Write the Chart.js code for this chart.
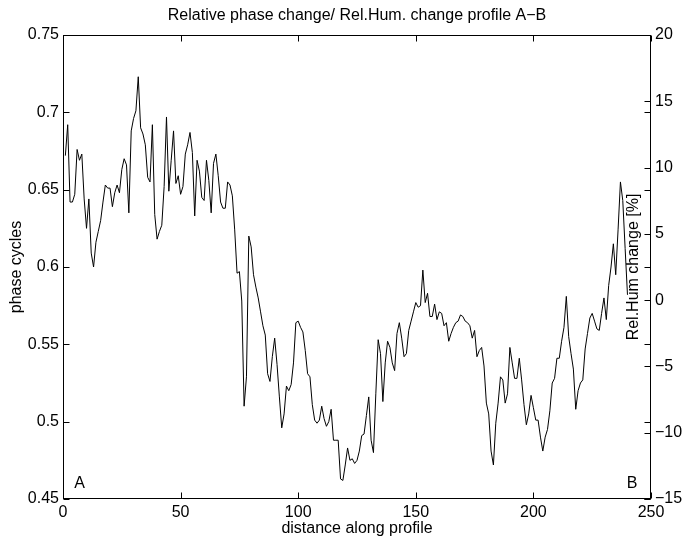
<!DOCTYPE html>
<html>
<head>
<meta charset="utf-8">
<script src="https://cdn.jsdelivr.net/npm/chart.js@4.4.1/dist/chart.umd.min.js"></script>
<style>
  html, body { margin: 0; padding: 0; background: #fff; }
  #c { display: block; }
</style>
</head>
<body>
<canvas id="c" width="682" height="537"></canvas>
<script>
// Text drawn on the figure
const chartTitle = 'Relative phase change/ Rel.Hum. change profile A\u2212B';
const xTitle = 'distance along profile';
const yTitle = 'phase cycles';
const y2Title = 'Rel.Hum change [%]';

// Profile samples: first sample distance, then one phase value per unit step
const firstDistance = 1;
const phaseCycles = [
  0.672, 0.692, 0.642, 0.642, 0.647, 0.676, 0.669, 0.673, 0.644, 0.625,
  0.644, 0.609, 0.600, 0.616, 0.623, 0.630, 0.642, 0.653, 0.651, 0.651,
  0.639, 0.648, 0.653, 0.648, 0.663, 0.670, 0.666, 0.635, 0.688, 0.696,
  0.701, 0.723, 0.690, 0.686, 0.679, 0.658, 0.655, 0.692, 0.634, 0.618,
  0.623, 0.627, 0.652, 0.697, 0.649, 0.669, 0.688, 0.654, 0.659, 0.647,
  0.652, 0.673, 0.679, 0.687, 0.674, 0.633, 0.669, 0.662, 0.645, 0.643,
  0.669, 0.656, 0.635, 0.667, 0.673, 0.659, 0.642, 0.638, 0.638, 0.655,
  0.653, 0.646, 0.624, 0.596, 0.597, 0.578, 0.510, 0.529, 0.620, 0.613,
  0.595, 0.587, 0.580, 0.571, 0.562, 0.556, 0.531, 0.526, 0.542, 0.554,
  0.537, 0.516, 0.496, 0.505, 0.523, 0.520, 0.524, 0.538, 0.564, 0.565,
  0.561, 0.558, 0.546, 0.531, 0.529, 0.511, 0.501, 0.499, 0.501, 0.510,
  0.502, 0.497, 0.500, 0.508, 0.488, 0.488, 0.488, 0.463, 0.462, 0.472,
  0.483, 0.475, 0.476, 0.473, 0.475, 0.481, 0.491, 0.492, 0.504, 0.516,
  0.488, 0.480, 0.518, 0.553, 0.544, 0.513, 0.538, 0.552, 0.548, 0.538,
  0.533, 0.557, 0.564, 0.554, 0.542, 0.544, 0.559, 0.565, 0.571, 0.577,
  0.574, 0.575, 0.598, 0.577, 0.583, 0.568, 0.568, 0.576, 0.566, 0.571,
  0.570, 0.562, 0.564, 0.552, 0.557, 0.561, 0.564, 0.565, 0.569, 0.568,
  0.565, 0.564, 0.562, 0.554, 0.559, 0.542, 0.546, 0.548, 0.536, 0.512,
  0.505, 0.481, 0.472, 0.499, 0.512, 0.529, 0.527, 0.512, 0.518, 0.548,
  0.538, 0.528, 0.528, 0.541, 0.527, 0.511, 0.498, 0.505, 0.517, 0.509,
  0.501, 0.501, 0.490, 0.481, 0.490, 0.495, 0.507, 0.525, 0.528, 0.541,
  0.541, 0.552, 0.561, 0.581, 0.555, 0.544, 0.534, 0.508, 0.520, 0.525,
  0.527, 0.547, 0.557, 0.567, 0.570, 0.565, 0.560, 0.559, 0.570, 0.580,
  0.566, 0.588, 0.600, 0.615, 0.595, 0.624, 0.655, 0.643, 0.612, 0.582
];

// Axis ticks
const distanceTicks = [0, 50, 100, 150, 200, 250];
const phaseTicks = [0.45, 0.5, 0.55, 0.6, 0.65, 0.7, 0.75];
const humidityTicks = [-15, -10, -5, 0, 5, 10, 15, 20];

// Profile end markers
const endText = ['A', 'B'];
const endDistance = [7, 242];
const endPhase = [0.4597, 0.4597];

const FONT = '"Liberation Sans", Arial, Helvetica, sans-serif';
const FONT_SIZE = 16;
Chart.defaults.font.family = FONT;
Chart.defaults.font.size = FONT_SIZE;
Chart.defaults.color = '#000';

const points = phaseCycles.map((v, i) => ({ x: firstDistance + i, y: v }));

const setTicks = (list) => (scale) => { scale.ticks = list.map(v => ({ value: v })); };
const minus = (s) => String(s).replace('-', '\u2212');

const framePlugin = {
  id: 'frame',
  afterDraw(chart) {
    const { ctx, chartArea: a, scales } = chart;
    const L = Math.round(a.left) + 0.5, R = Math.round(a.right) - 0.5;
    const T = Math.round(a.top) + 0.5, B = Math.round(a.bottom) - 0.5;
    const len = 6;
    ctx.save();
    ctx.strokeStyle = '#000';
    ctx.lineWidth = 1;
    ctx.strokeRect(L, T, R - L, B - T);
    ctx.beginPath();
    distanceTicks.forEach(v => {
      const px = Math.round(scales.x.getPixelForValue(v)) + 0.5;
      ctx.moveTo(px, B); ctx.lineTo(px, B - len);
      ctx.moveTo(px, T); ctx.lineTo(px, T + len);
    });
    phaseTicks.forEach(v => {
      const py = Math.round(scales.y.getPixelForValue(v)) + 0.5;
      ctx.moveTo(L, py); ctx.lineTo(L + len, py);
      ctx.moveTo(R, py); ctx.lineTo(R - len, py);
    });
    humidityTicks.forEach(v => {
      const py = Math.round(scales.y2.getPixelForValue(v)) + 0.5;
      ctx.moveTo(R, py); ctx.lineTo(R - len, py);
    });
    ctx.stroke();

    ctx.fillStyle = '#000';
    ctx.font = FONT_SIZE + 'px ' + FONT;
    ctx.textAlign = 'center';
    ctx.textBaseline = 'middle';
    endText.forEach((t, i) => {
      ctx.fillText(t, scales.x.getPixelForValue(endDistance[i]), scales.y.getPixelForValue(endPhase[i]));
    });

    ctx.fillText(chartTitle, (a.left + a.right) / 2, 16);

    ctx.translate(634, (a.top + a.bottom) / 2);
    ctx.rotate(-Math.PI / 2);
    ctx.fillText(y2Title, 0, 0);
    ctx.restore();
  }
};

new Chart(document.getElementById('c'), {
  type: 'line',
  data: {
    datasets: [{
      data: points,
      borderColor: '#000',
      borderWidth: 1,
      pointRadius: 0,
      tension: 0,
      fill: false,
      yAxisID: 'y'
    }]
  },
  options: {
    responsive: false,
    animation: false,
    devicePixelRatio: 1,
    layout: { padding: { top: 35, left: 0, right: 0, bottom: 0 } },
    plugins: { legend: { display: false }, tooltip: { enabled: false }, title: { display: false } },
    scales: {
      x: {
        type: 'linear',
        min: 0, max: 250,
        afterBuildTicks: setTicks(distanceTicks),
        afterFit: (s) => { s.height = 38; },
        grid: { display: false, drawTicks: false },
        border: { display: false },
        ticks: { padding: 4, maxRotation: 0, autoSkip: false, callback: (v) => String(v) },
        title: { display: true, text: xTitle, font: { size: FONT_SIZE, lineHeight: 1 }, padding: { top: 0, bottom: 0 } }
      },
      y: {
        type: 'linear',
        position: 'left',
        min: 0.45, max: 0.75,
        afterBuildTicks: setTicks(phaseTicks),
        afterFit: (s) => { s.width = 63; },
        grid: { display: false, drawTicks: false },
        border: { display: false },
        ticks: { padding: 4, callback: (v) => String(Math.round(v * 100) / 100) },
        title: { display: true, text: yTitle, font: { size: FONT_SIZE, lineHeight: 1 }, padding: { top: 9, bottom: 0 } }
      },
      y2: {
        type: 'linear',
        position: 'right',
        min: -15, max: 20,
        afterBuildTicks: setTicks(humidityTicks),
        afterFit: (s) => { s.width = 31; },
        grid: { display: false, drawTicks: false },
        border: { display: false },
        ticks: { padding: 4, callback: (v) => minus(v) }
      }
    }
  },
  plugins: [framePlugin]
});
</script>
</body>
</html>
